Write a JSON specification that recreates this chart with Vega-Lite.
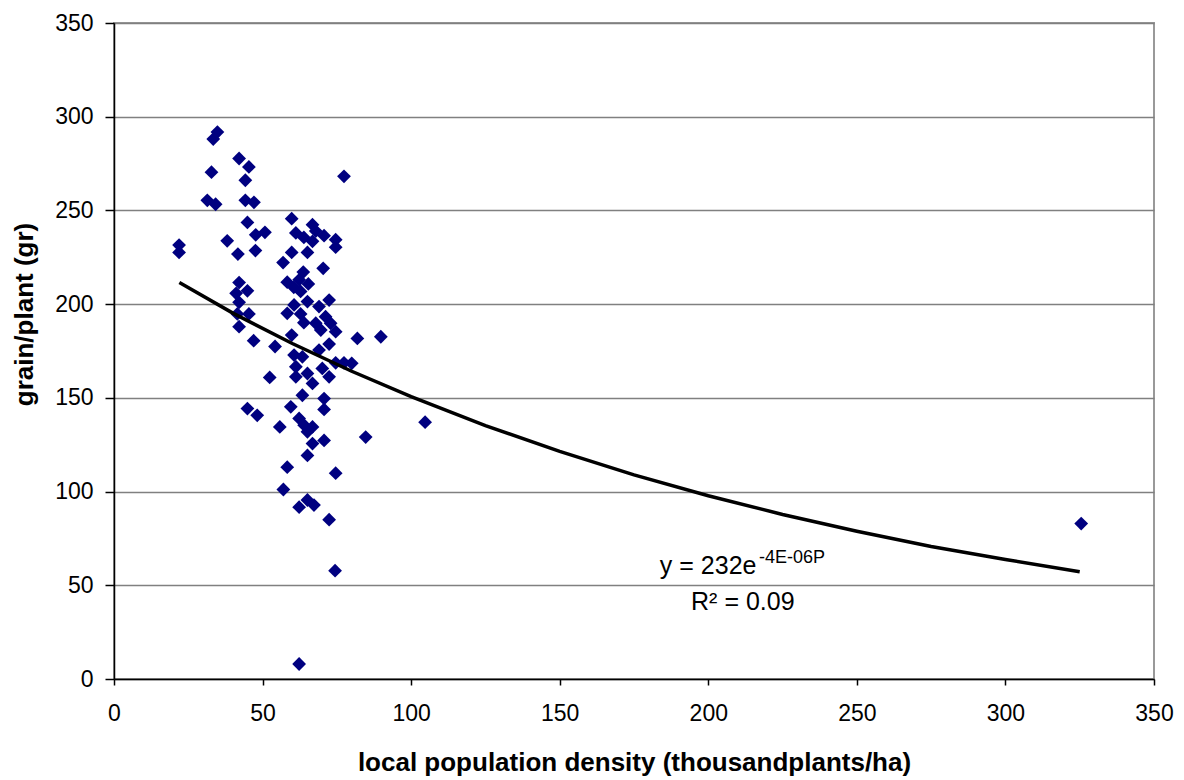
{
  "$schema": "https://vega.github.io/schema/vega-lite/v6.json",
  "width": 1040,
  "height": 656,
  "autosize": {"type": "none"},
  "padding": {"left": 114, "top": 23, "right": 30, "bottom": 101},
  "background": "white",
  "config": {
    "view": {"stroke": "#999999", "strokeWidth": 2},
    "font": "Liberation Sans",
    "axis": {
      "labelFont": "Liberation Sans",
      "titleFont": "Liberation Sans",
      "labelColor": "black",
      "titleColor": "black",
      "domainColor": "black",
      "tickColor": "black",
      "domainWidth": 1.5,
      "tickWidth": 1.5
    }
  },
  "datasets": {
    "points": [
      {"P": 21.9, "G": 231.5}, {"P": 21.9, "G": 227.6}, {"P": 31.4, "G": 255.4}, {"P": 32.8, "G": 270.4},
      {"P": 33.4, "G": 288.1}, {"P": 34.8, "G": 291.8}, {"P": 34.2, "G": 253.3}, {"P": 38.1, "G": 233.8},
      {"P": 42.1, "G": 277.7}, {"P": 45.4, "G": 273.2}, {"P": 44.2, "G": 266.1}, {"P": 44.2, "G": 255.4},
      {"P": 47.1, "G": 254.3}, {"P": 44.9, "G": 243.6}, {"P": 47.7, "G": 237.0}, {"P": 50.8, "G": 238.3},
      {"P": 41.7, "G": 226.7}, {"P": 47.6, "G": 228.6}, {"P": 42.1, "G": 211.5}, {"P": 41.1, "G": 205.8},
      {"P": 44.9, "G": 207.1}, {"P": 42.1, "G": 201.0}, {"P": 41.5, "G": 194.8}, {"P": 45.4, "G": 194.8},
      {"P": 42.1, "G": 188.0}, {"P": 47.0, "G": 180.5}, {"P": 54.2, "G": 177.4}, {"P": 52.4, "G": 160.9},
      {"P": 44.9, "G": 144.3}, {"P": 48.2, "G": 140.7}, {"P": 55.8, "G": 134.5}, {"P": 57.0, "G": 101.1},
      {"P": 58.3, "G": 113.0}, {"P": 62.3, "G": 91.7}, {"P": 65.1, "G": 95.5}, {"P": 67.3, "G": 92.8},
      {"P": 72.4, "G": 85.0}, {"P": 74.4, "G": 57.8}, {"P": 62.3, "G": 8.0}, {"P": 74.6, "G": 109.8},
      {"P": 65.1, "G": 119.3}, {"P": 66.8, "G": 125.6}, {"P": 70.7, "G": 127.3}, {"P": 84.7, "G": 129.1},
      {"P": 64.0, "G": 135.4}, {"P": 66.8, "G": 134.5}, {"P": 65.1, "G": 131.9}, {"P": 62.3, "G": 139.0},
      {"P": 59.5, "G": 145.2}, {"P": 70.7, "G": 143.8}, {"P": 70.7, "G": 149.6}, {"P": 63.4, "G": 151.4},
      {"P": 66.8, "G": 157.7}, {"P": 61.2, "G": 161.2}, {"P": 72.4, "G": 161.2}, {"P": 65.1, "G": 163.0},
      {"P": 61.2, "G": 166.6}, {"P": 70.1, "G": 165.7}, {"P": 60.6, "G": 172.8}, {"P": 63.4, "G": 171.9},
      {"P": 69.0, "G": 175.5}, {"P": 72.4, "G": 178.7}, {"P": 74.6, "G": 168.7}, {"P": 77.4, "G": 168.7},
      {"P": 80.0, "G": 168.4}, {"P": 81.9, "G": 181.7}, {"P": 89.8, "G": 182.6}, {"P": 59.8, "G": 183.5},
      {"P": 74.6, "G": 185.3}, {"P": 69.6, "G": 186.2}, {"P": 63.9, "G": 190.1}, {"P": 67.9, "G": 189.8},
      {"P": 72.9, "G": 189.8}, {"P": 71.2, "G": 193.3}, {"P": 69.0, "G": 198.7}, {"P": 58.3, "G": 195.1},
      {"P": 62.8, "G": 194.8}, {"P": 60.6, "G": 199.6}, {"P": 65.1, "G": 201.4}, {"P": 72.4, "G": 202.2},
      {"P": 62.8, "G": 206.8}, {"P": 58.3, "G": 211.7}, {"P": 62.3, "G": 213.0}, {"P": 65.4, "G": 210.8},
      {"P": 63.7, "G": 217.1}, {"P": 70.4, "G": 219.1}, {"P": 56.9, "G": 222.2}, {"P": 59.8, "G": 227.6},
      {"P": 65.1, "G": 227.6}, {"P": 66.8, "G": 233.5}, {"P": 74.6, "G": 230.4}, {"P": 74.6, "G": 234.4},
      {"P": 70.7, "G": 236.5}, {"P": 67.9, "G": 239.0}, {"P": 63.9, "G": 235.6}, {"P": 61.2, "G": 238.0},
      {"P": 66.8, "G": 242.4}, {"P": 59.8, "G": 245.6}, {"P": 77.4, "G": 268.2}, {"P": 104.7, "G": 137.0},
      {"P": 325.5, "G": 82.9}, {"P": 60.5, "G": 209.0}
    ],
    "trend": [
      {"P": 22, "G": 211.5}, {"P": 40, "G": 195.2}, {"P": 60, "G": 179.0}, {"P": 80, "G": 164.2},
      {"P": 100, "G": 150.6}, {"P": 125, "G": 135.2}, {"P": 150, "G": 121.4}, {"P": 175, "G": 108.9},
      {"P": 200, "G": 97.8}, {"P": 225, "G": 87.8}, {"P": 250, "G": 78.8}, {"P": 275, "G": 70.7},
      {"P": 300, "G": 63.8}, {"P": 325, "G": 57.2}
    ],
    "labels": [
      {"P": 183.7, "G": 56.1, "t": "y = 232e"},
      {"P": 194.2, "G": 36.8, "t": "R² = 0.09"}
    ],
    "sup": [
      {"P": 217.1, "G": 61.9, "t": "-4E-06P"}
    ]
  },
  "layer": [
    {
      "data": {"name": "points"},
      "mark": {"type": "point", "shape": "diamond", "filled": true, "color": "#000080", "size": 190, "opacity": 1},
      "encoding": {
        "x": {
          "field": "P", "type": "quantitative",
          "scale": {"domain": [0, 350], "nice": false, "zero": false},
          "axis": {
            "values": [0, 50, 100, 150, 200, 250, 300, 350],
            "grid": false,
            "title": "local population density (thousandplants/ha)",
            "titleFontSize": 26,
            "titleFontWeight": "bold",
            "titleY": 91,
            "titleBaseline": "alphabetic",
            "labelFontSize": 23,
            "labelFontWeight": "normal",
            "tickSize": 6,
            "labelPadding": 17,
            "labelFlush": false,
            "labelOverlap": false
          }
        },
        "y": {
          "field": "G", "type": "quantitative",
          "scale": {"domain": [0, 350], "nice": false, "zero": false},
          "axis": {
            "values": [0, 50, 100, 150, 200, 250, 300, 350],
            "grid": true,
            "gridColor": "#808080",
            "gridWidth": 1.5,
            "title": "grain/plant (gr)",
            "titleFontSize": 26,
            "titleFontWeight": "bold",
            "titleX": -82,
            "titleY": 291,
            "titleAngle": -90,
            "titleAlign": "center",
            "titleBaseline": "alphabetic",
            "labelFontSize": 23,
            "tickSize": 9,
            "labelPadding": 12,
            "labelFlush": false,
            "labelOverlap": false
          }
        }
      }
    },
    {
      "data": {"name": "trend"},
      "mark": {"type": "line", "color": "black", "strokeWidth": 3.5, "interpolate": "linear"},
      "encoding": {
        "x": {"field": "P", "type": "quantitative"},
        "y": {"field": "G", "type": "quantitative"}
      }
    },
    {
      "data": {"name": "labels"},
      "mark": {"type": "text", "align": "left", "baseline": "alphabetic", "fontSize": 25, "font": "Liberation Sans", "color": "black"},
      "encoding": {
        "x": {"field": "P", "type": "quantitative"},
        "y": {"field": "G", "type": "quantitative"},
        "text": {"field": "t", "type": "nominal"}
      }
    },
    {
      "data": {"name": "sup"},
      "mark": {"type": "text", "align": "left", "baseline": "alphabetic", "fontSize": 18, "font": "Liberation Sans", "color": "black"},
      "encoding": {
        "x": {"field": "P", "type": "quantitative"},
        "y": {"field": "G", "type": "quantitative"},
        "text": {"field": "t", "type": "nominal"}
      }
    }
  ]
}
